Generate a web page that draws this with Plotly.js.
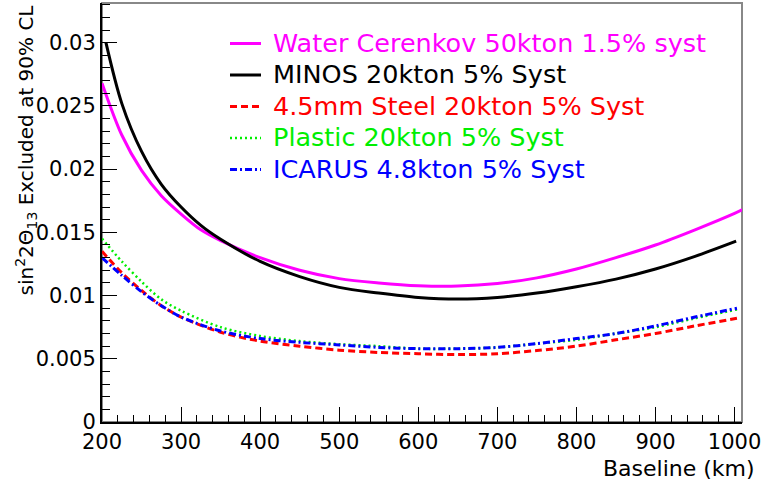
<!DOCTYPE html>
<html>
<head>
<meta charset="utf-8">
<script src="https://cdn.plot.ly/plotly-3.0.1.min.js"></script>
<style>html,body{margin:0;padding:0;background:#fff;}#chart{width:764px;height:486px;}</style>
</head>
<body>
<div id="chart"></div>
<script>
// Baseline (km) grids and excluded sin^2(2theta13) values
const baselineWater = [200, 225, 250, 275, 300, 325, 350, 400, 450, 500, 550, 600, 650, 700, 750, 800, 850, 900, 950, 1000, 1010];
const waterCerenkov = [0.0268, 0.0227, 0.0199, 0.0179, 0.01645, 0.0152, 0.01435, 0.0130, 0.0120, 0.01134, 0.0110, 0.01078, 0.01075, 0.01095, 0.0114, 0.0121, 0.0130, 0.0140, 0.0152, 0.0165, 0.0168];

const baselineMinos = [205, 225, 250, 275, 300, 325, 350, 400, 450, 500, 550, 600, 650, 700, 750, 800, 850, 900, 950, 1002];
const minos = [0.0300, 0.0252, 0.0214, 0.0188, 0.0170, 0.01555, 0.01445, 0.0127, 0.0115, 0.01065, 0.0102, 0.00985, 0.00972, 0.00985, 0.0102, 0.0107, 0.0113, 0.0121, 0.0131, 0.0143];

const baseline = [200, 225, 250, 275, 300, 350, 400, 450, 500, 550, 600, 650, 700, 750, 800, 850, 900, 950, 1003];
const steel = [0.0135, 0.0118, 0.0104, 0.0092, 0.0083, 0.0071, 0.0064, 0.0060, 0.00568, 0.0055, 0.0054, 0.00533, 0.0054, 0.00565, 0.0060, 0.0065, 0.0070, 0.0076, 0.0082];
const plastic = [0.0145, 0.0127, 0.0111, 0.0097, 0.0088, 0.0075, 0.0068, 0.0064, 0.00615, 0.0060, 0.0058, 0.0058, 0.0059, 0.0062, 0.0065, 0.0070, 0.0075, 0.0082, 0.0089];
const icarus = [0.0130, 0.0116, 0.0103, 0.0092, 0.0083, 0.0072, 0.0066, 0.0063, 0.0061, 0.0059, 0.0058, 0.0058, 0.0059, 0.0062, 0.0066, 0.0070, 0.0076, 0.0083, 0.0090];

const seriesNames = ["Water Cerenkov 50kton 1.5% syst", "MINOS 20kton 5% Syst", "4.5mm Steel 20kton 5% Syst", "Plastic 20kton 5% Syst", "ICARUS 4.8kton 5% Syst"];
const seriesColors = ["#ff00ff", "#000000", "#ff0000", "#00ee00", "#0000ff"];
const seriesDash = ["solid", "solid", "7px,4px", "2px,3px", "7px,3px,2px,3px"];
const seriesWidth = [3, 3, 3, 2.5, 3];

const FONT = "DejaVu Sans, Liberation Sans, sans-serif";

function tr(x, y, i) {
  return {
    x: x, y: y, type: "scatter", mode: "lines",
    line: {color: seriesColors[i], width: seriesWidth[i], dash: seriesDash[i], shape: "spline", smoothing: 0.9},
    name: seriesNames[i], showlegend: false, hoverinfo: "skip"
  };
}

const data = [
  tr(baselineWater, waterCerenkov, 0),
  tr(baselineMinos, minos, 1),
  tr(baseline, steel, 2),
  tr(baseline, plastic, 3),
  tr(baseline, icarus, 4)
];

// Legend drawn in paper coordinates (ROOT-style TLegend without box)
const W = 764, H = 486, ML = 102, MR = 22, MT = 3, MB = 64;
const PW = W - ML - MR, PH = H - MT - MB;
const px2x = p => (p - ML) / PW;
const px2y = p => (H - MB - p) / PH;
const legendRowTop = 43.5, legendRowStep = 31.5;

const shapes = [
  {type: "rect", xref: "paper", yref: "paper", x0: 0, x1: 1, y0: 0, y1: 1,
   line: {color: "#888", width: 2}, fillcolor: "rgba(0,0,0,0)", layer: "below"}
];
const annotations = [
  {text: "Baseline (km)", xref: "paper", yref: "paper", x: px2x(757), y: px2y(468),
   xanchor: "right", yanchor: "middle", showarrow: false, font: {family: FONT, size: 22}},
  {text: "sin<sup>2</sup>2Θ<sub>13</sub> Excluded at 90% CL", xref: "paper", yref: "paper",
   x: px2x(26), y: 1.0, xanchor: "center", yanchor: "top", textangle: -90, showarrow: false,
   font: {family: FONT, size: 20}}
];
seriesNames.forEach((nm, i) => {
  const yc = legendRowTop + i * legendRowStep;
  shapes.push({type: "line", xref: "paper", yref: "paper",
    x0: px2x(230), x1: px2x(261), y0: px2y(yc), y1: px2y(yc),
    line: {color: seriesColors[i], width: seriesWidth[i], dash: seriesDash[i]}});
  annotations.push({text: nm, xref: "paper", yref: "paper", x: px2x(271), y: px2y(yc - 1),
    xanchor: "left", yanchor: "middle", showarrow: false,
    font: {family: FONT, size: 25.5, color: seriesColors[i]}});
});

const layout = {
  width: W, height: H,
  margin: {l: ML, r: MR, t: MT, b: MB},
  paper_bgcolor: "#ffffff", plot_bgcolor: "#ffffff",
  font: {family: FONT, size: 21, color: "#000"},
  showlegend: false,
  xaxis: {
    range: [200, 1009.4], showgrid: false, zeroline: false,
    showline: true, linecolor: "#000", linewidth: 2,
    ticks: "inside", ticklen: 15, tickwidth: 1, tickcolor: "#000",
    tick0: 200, dtick: 100,
    minor: {ticks: "inside", ticklen: 7, dtick: 20, tick0: 200, tickcolor: "#000", showgrid: false},
    tickfont: {family: FONT, size: 21}
  },
  yaxis: {
    range: [0, 0.03314], showgrid: false, zeroline: false,
    showline: true, linecolor: "#000", linewidth: 2,
    ticks: "inside", ticklen: 15, tickwidth: 1, tickcolor: "#000",
    tick0: 0, dtick: 0.005,
    minor: {ticks: "inside", ticklen: 8, dtick: 0.001, tick0: 0, tickcolor: "#000", showgrid: false},
    tickfont: {family: FONT, size: 21}
  },
  shapes: shapes,
  annotations: annotations
};

Plotly.newPlot("chart", data, layout, {staticPlot: true});
</script>
</body>
</html>
